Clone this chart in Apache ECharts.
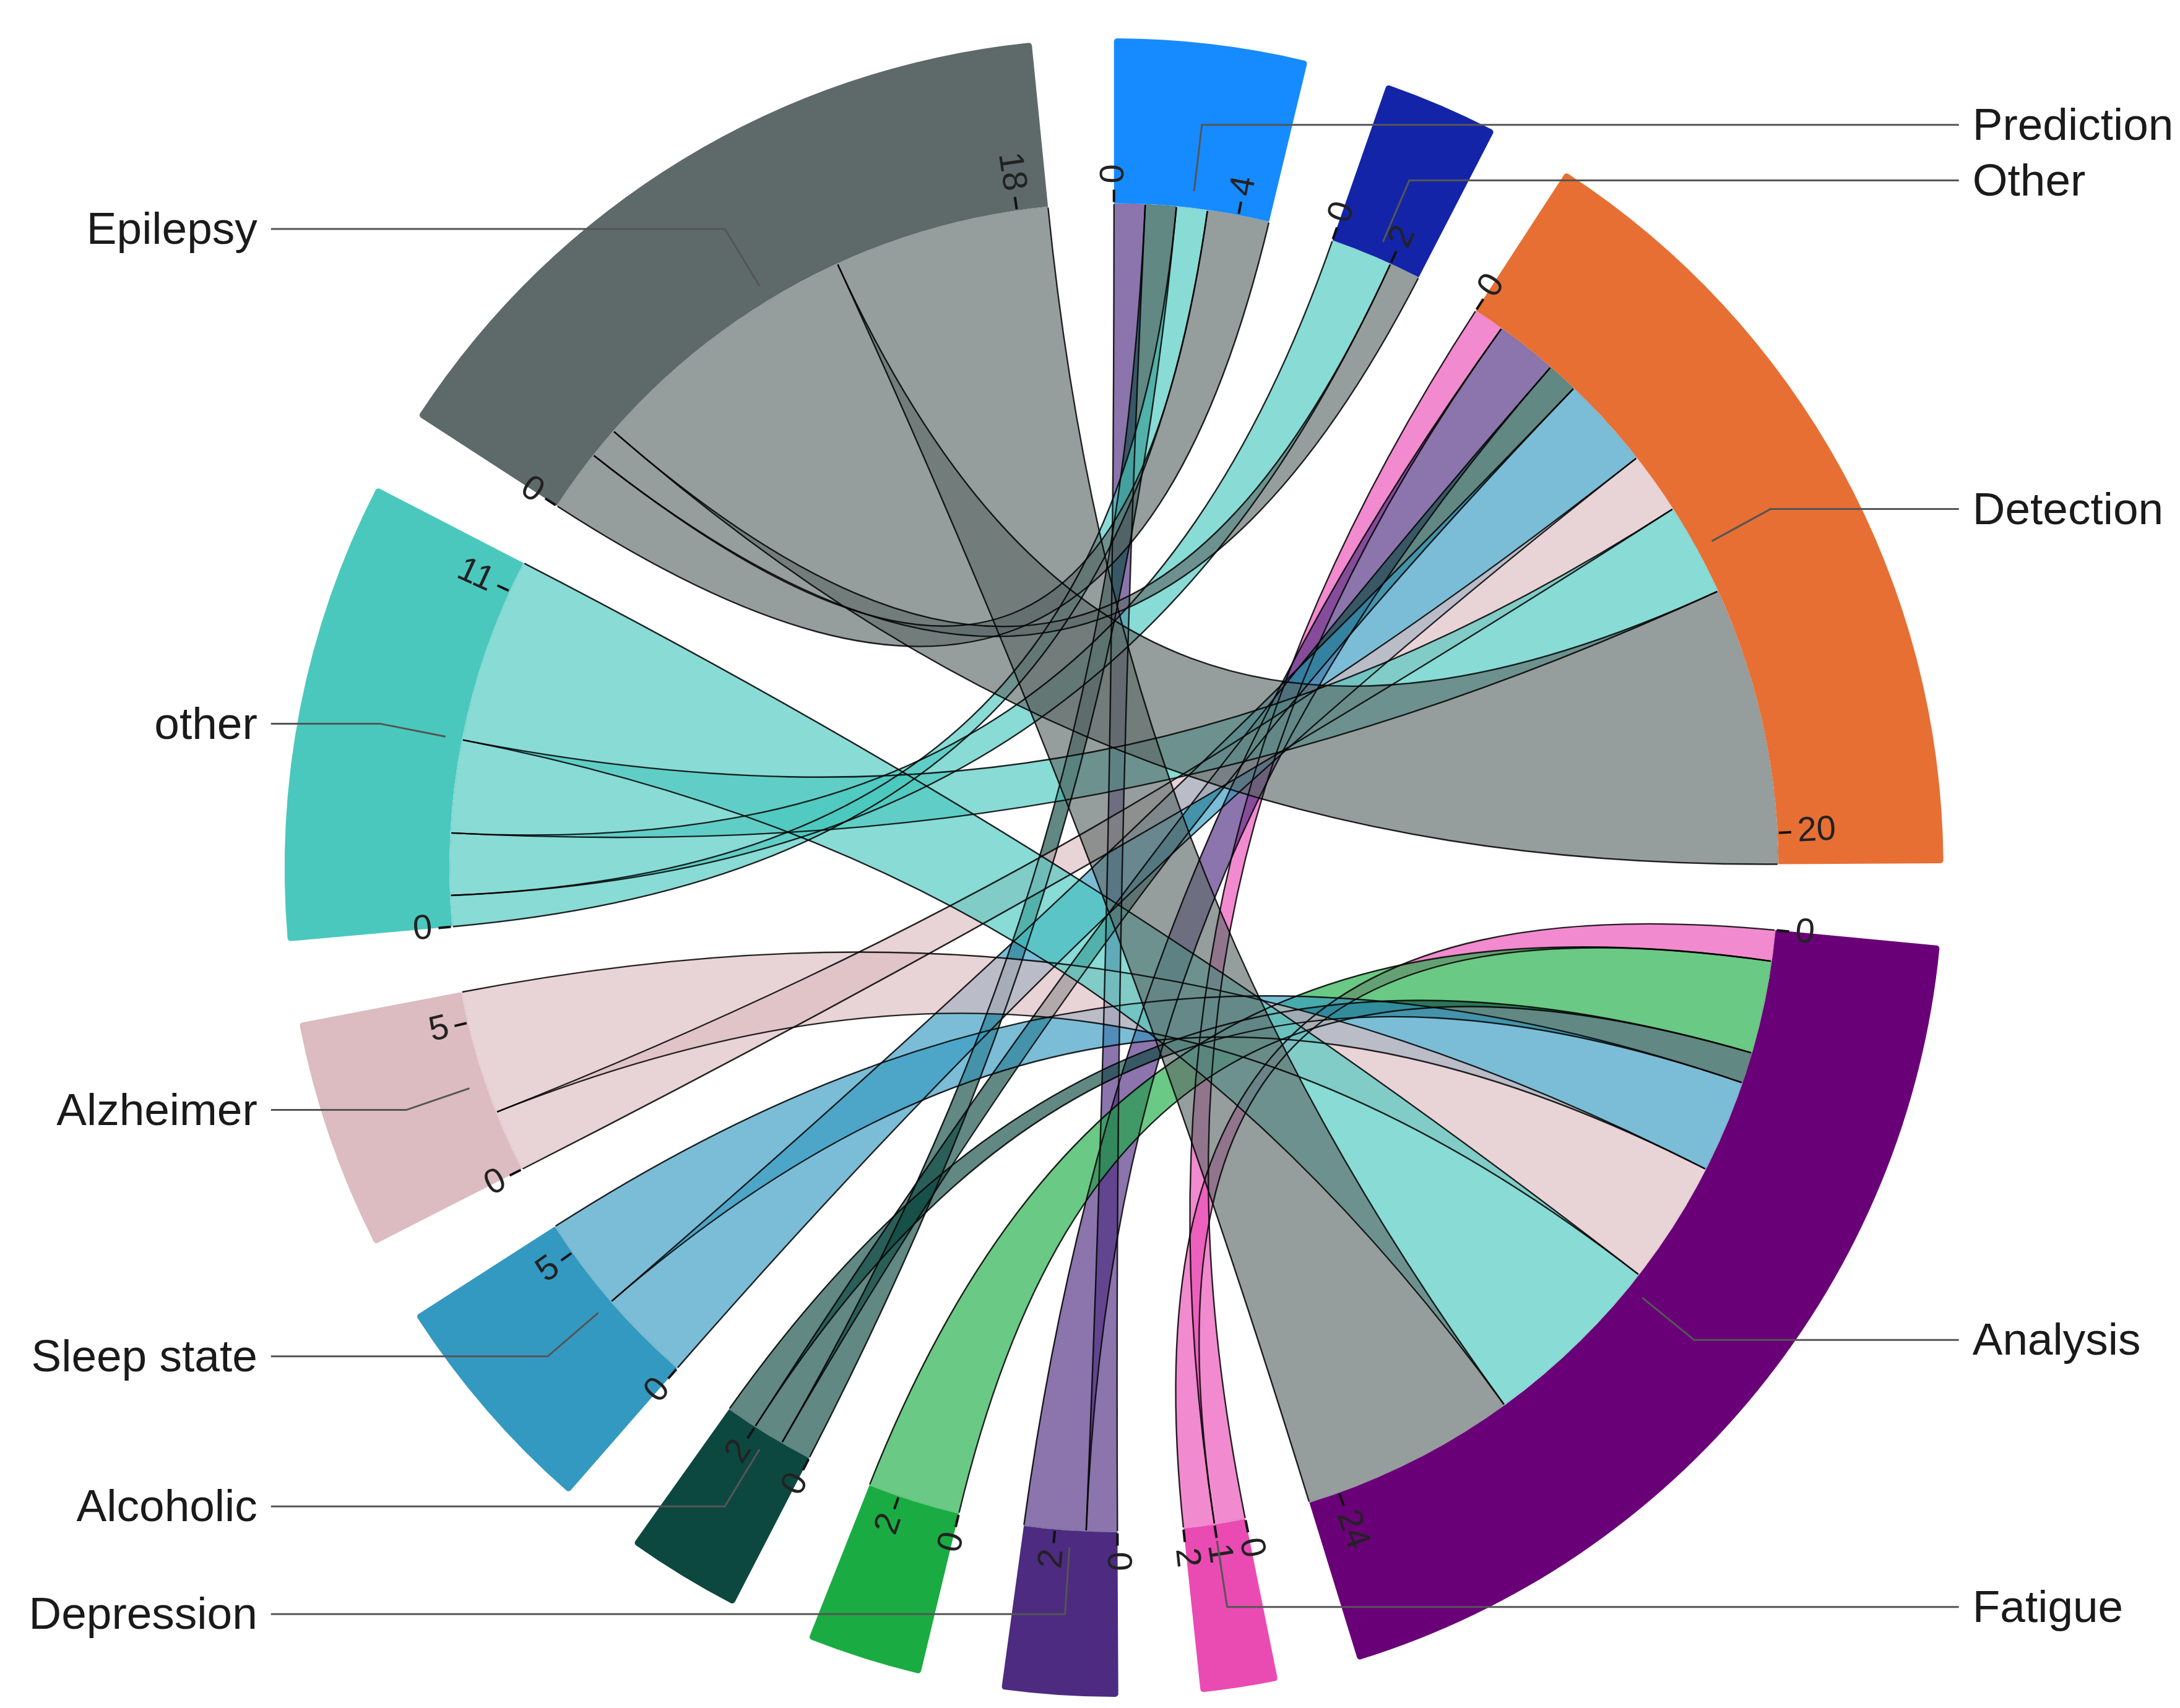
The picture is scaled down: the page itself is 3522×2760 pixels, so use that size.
<!DOCTYPE html>
<html>
<head>
<meta charset="utf-8">
<title>Chord</title>
<script src="https://cdn.jsdelivr.net/npm/echarts@6/dist/echarts.min.js"></script>
<style>
html, body { margin: 0; padding: 0; background: #fff; }
#chart { width: 3522px; height: 2760px; }
</style>
</head>
<body>
<div id="chart"></div>
<script>
// sectors, clockwise from 12 o'clock
var tasks = ['Prediction', 'Other', 'Detection', 'Analysis'];
var taskColors = ['#168bff', '#1424a8', '#e76f34', '#6a0078'];
var diseases = ['Fatigue', 'Depression', 'unlabelled', 'Alcoholic', 'Sleep state', 'Alzheimer', 'other', 'Epilepsy'];
var diseaseColors = ['#ea4bb3', '#4d2b80', '#1aac42', '#0d4840', '#3499c0', '#dcbcc0', '#4ac8be', '#5e6a69'];

// counts per disease -> [Prediction, Other, Detection, Analysis]
var fatigue = [0, 0, 1, 1];
var depression = [1, 0, 2, 0];
var unlabelled = [0, 0, 0, 3];
var alcoholic = [1, 0, 1, 1];
var sleepState = [0, 0, 3, 3];
var alzheimer = [0, 0, 2, 4];
var otherDisease = [1, 2, 3, 6];
var epilepsy = [2, 1, 9, 7];

// axis ticks printed on each sector
var tickValues = {
    'Prediction': [0, 4],
    'Other': [0, 2],
    'Detection': [0, 20],
    'Analysis': [0, 24],
    'Fatigue': [0, 1, 2],
    'Depression': [0, 2],
    'unlabelled': [0, 2],
    'Alcoholic': [0, 2],
    'Sleep state': [0, 5],
    'Alzheimer': [0, 5],
    'other': [0, 11],
    'Epilepsy': [0, 18]
};
var hiddenLabels = ['unlabelled'];

var matrix = [fatigue, depression, unlabelled, alcoholic, sleepState, alzheimer, otherDisease, epilepsy];

var nodes = [];
tasks.forEach(function (n, i) {
    nodes.push({ name: n, itemStyle: { color: taskColors[i] } });
});
diseases.forEach(function (n, i) {
    nodes.push({ name: n, itemStyle: { color: diseaseColors[i] } });
});

var links = [];
diseases.forEach(function (d, i) {
    tasks.forEach(function (t, j) {
        if (matrix[i][j] > 0) {
            links.push({ source: d, target: t, value: matrix[i][j] });
        }
    });
});

var totals = {};
nodes.forEach(function (n) { totals[n.name] = 0; });
links.forEach(function (l) {
    totals[l.source] += l.value;
    totals[l.target] += l.value;
});

var W = 3522, H = 2760;
var CX = W * 0.511, CY = H * 0.508;
var R0 = H / 2 * 0.778, R1 = H / 2 * 0.971;
var PAD = 5.7;
var LINK_OPACITY = 0.65;

var chart = echarts.init(document.getElementById('chart'));
chart.setOption({
    animation: false,
    backgroundColor: '#fff',
    series: [{
        type: 'chord',
        center: [CX, CY],
        radius: [R0, R1],
        startAngle: 90,
        clockwise: true,
        padAngle: PAD,
        minAngle: 0,
        label: { show: false },
        itemStyle: { borderWidth: 0 },
        lineStyle: {
            color: 'source',
            opacity: LINK_OPACITY
        },
        data: nodes,
        links: links
    }]
});

// node angles: take them from the series layout, fall back to own estimate
function ownLayout() {
    var sum = 0;
    nodes.forEach(function (n) { sum += totals[n.name]; });
    var free = Math.PI * 2 - PAD * Math.PI / 180 * nodes.length;
    var a = -Math.PI / 2;
    return nodes.map(function (n) {
        var span = totals[n.name] / sum * free;
        var l = { cx: CX, cy: CY, r0: R0, r: R1, startAngle: a, endAngle: a + span };
        a += span + PAD * Math.PI / 180;
        return l;
    });
}
var layouts;
try {
    var data = chart.getModel().getSeriesByIndex(0).getData();
    layouts = nodes.map(function (n, i) { return data.getItemLayout(i); });
    if (!layouts[0] || layouts[0].startAngle == null) layouts = ownLayout();
} catch (e) {
    layouts = ownLayout();
}

var graphics = [];
nodes.forEach(function (n, i) {
    var lay = layouts[i];
    var cx = lay.cx, cy = lay.cy, r0 = lay.r0, r1 = lay.r;
    var a0 = lay.startAngle, a1 = lay.endAngle;
    var total = totals[n.name];
    (tickValues[n.name] || []).forEach(function (v) {
        var a = a0 + (a1 - a0) * v / total;
        var c = Math.cos(a), s = Math.sin(a);
        graphics.push({
            type: 'line', z: 100,
            shape: { x1: cx + (r0 + 2) * c, y1: cy + (r0 + 2) * s, x2: cx + (r0 + 22) * c, y2: cy + (r0 + 22) * s },
            style: { stroke: '#111', lineWidth: 4 }
        });
        var theta = ((a + Math.PI / 2) % (Math.PI * 2) + Math.PI * 2) % (Math.PI * 2);
        var right = theta < Math.PI;
        graphics.push({
            type: 'text', z: 100,
            x: cx + (r0 + 32) * c, y: cy + (r0 + 32) * s,
            rotation: right ? -a : Math.PI - a,
            style: {
                text: String(v),
                fontSize: 56,
                fontFamily: 'Liberation Sans, Arial, sans-serif',
                fill: '#222',
                align: right ? 'left' : 'right',
                verticalAlign: 'middle'
            }
        });
    });
    if (hiddenLabels.indexOf(n.name) >= 0) return;
    var am = (a0 + a1) / 2;
    var cm = Math.cos(am), sm = Math.sin(am);
    var p1 = [cx + (r0 + 27) * cm, cy + (r0 + 27) * sm];
    var p2 = [cx + (r0 + 135) * cm, cy + (r0 + 135) * sm];
    var isRight = cm >= 0;
    var p3 = [isRight ? cx + r1 + 25 : cx - r1 - 22, p2[1]];
    graphics.push({
        type: 'polyline', z: 100,
        shape: { points: [p1, p2, p3] },
        style: { stroke: '#555', lineWidth: 3, fill: null }
    });
    graphics.push({
        type: 'text', z: 100,
        x: isRight ? cx + r1 + 47 : cx - r1 - 44,
        y: p2[1] + 4,
        style: {
            text: n.name,
            fontSize: 73,
            fontFamily: 'Liberation Sans, Arial, sans-serif',
            fill: '#1a1a1a',
            align: isRight ? 'left' : 'right',
            verticalAlign: 'middle'
        }
    });
});

chart.setOption({ graphic: { elements: graphics } });

// thin dark outline along the ribbon sides (not on the arc ends), as in the original
var zr = chart.getZr();
var ring = layouts[0];
var ribbons = zr.storage.getDisplayList(true).filter(function (el) {
    if (!el.shape || !el.style || el.z >= 100 || el.type === 'text') return false;
    var op = el.style.opacity;
    return op != null && op < 0.99;
});
ribbons.forEach(function (el) {
    var Outline = echarts.graphic.extendShape({
        shape: {},
        buildPath: function (ctx, shape) { el.buildPath.call(this, ctx, shape); }
    });
    var o = new Outline({
        shape: echarts.util.clone(el.shape),
        style: { fill: 'none', stroke: '#000', lineWidth: 2.4, strokeOpacity: 0.85 },
        z: el.z,
        z2: (el.z2 || 0) + 1,
        zlevel: el.zlevel || 0,
        silent: true
    });
    o.setClipPath(new echarts.graphic.Circle({ shape: { cx: ring.cx, cy: ring.cy, r: ring.r0 - 1.6 } }));
    zr.add(o);
});
zr.refreshImmediately();
</script>
</body>
</html>
